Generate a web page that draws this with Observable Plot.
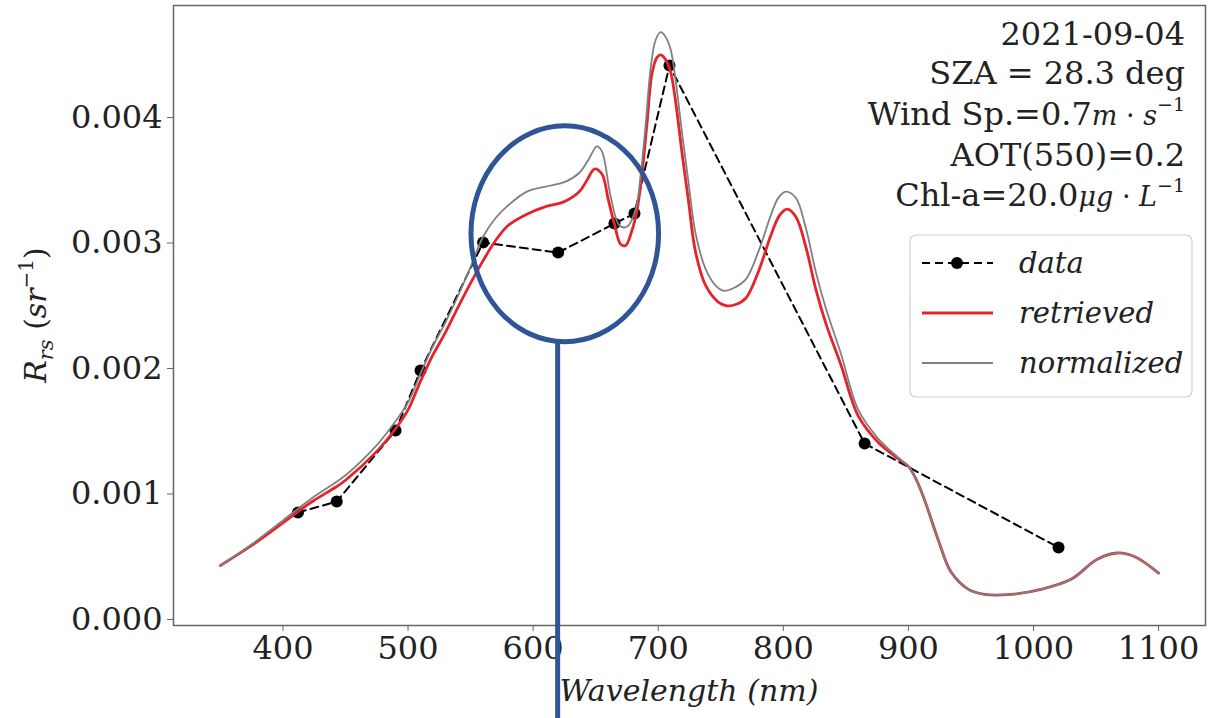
<!DOCTYPE html>
<html><head><meta charset="utf-8">
<script src="https://cdn.jsdelivr.net/npm/d3@7"></script>
<script src="https://cdn.jsdelivr.net/npm/@observablehq/plot@0.6"></script>
<style>body{margin:0;background:#fff;} svg{display:block}</style>
</head><body><div id="chart"></div>
<script>
// ---- data ----
const bandWavelengths = [412, 443, 490, 510, 560, 620, 665, 681, 709, 865, 1020];
const bandRrs = [0.000853, 0.00094, 0.001506, 0.001984, 0.003004, 0.002924, 0.003155, 0.003235, 0.004414, 0.001402, 0.000574];

const retrievedWl = [350,375,400,412,425,443,450,475,490,500,510,520,530,540,550,560,570,580,595,610,625,637,643,649,655,660,665,670,674,679,683,687,691,695,699,702,706,710,714,719,724,730,738,748,755,762,770,780,790,797,803,810,818,826,834,846,860,876,892,900,906,913,924,934,948,961,982,1006,1030,1051,1067,1081,1100];
const retrievedRrs = [0.00043,0.00059,0.00077,0.00086,0.00095,0.00106,0.00111,0.00134,0.00152,0.00167,0.00190,0.00211,0.00229,0.00249,0.00268,0.00286,0.00302,0.00314,0.00323,0.00329,0.00333,0.00341,0.00350,0.00359,0.00355,0.00335,0.00315,0.00299,0.00298,0.00310,0.00326,0.00355,0.00395,0.00435,0.00448,0.00450,0.00446,0.00436,0.00412,0.00372,0.00335,0.00292,0.00266,0.00253,0.00250,0.00251,0.00256,0.00277,0.00306,0.00322,0.00327,0.00321,0.00297,0.00263,0.00236,0.00203,0.00162,0.00141,0.00128,0.00122,0.00112,0.00095,0.00063,0.00038,0.00024,0.00020,0.00020,0.00024,0.00032,0.00048,0.00053,0.00050,0.00037];

const normalizedWl = [350,375,400,425,450,475,490,500,510,520,530,540,550,560,570,580,595,610,626,637,644,651,655,662,669,675,682,686,690,694,698,702,706,710,714,719,724,730,738,746,752,760,770,780,790,796,802,810,818,826,834,846,860,876,892,900,906,913,924,934,948,961,982,1006,1030,1051,1067,1081,1100];
const normalizedRrs = [0.00043,0.00060,0.00079,0.00098,0.00115,0.00139,0.00158,0.00173,0.00196,0.00218,0.00237,0.00258,0.00281,0.00305,0.00320,0.00330,0.00341,0.00345,0.00349,0.00356,0.00366,0.00377,0.00373,0.00337,0.00314,0.00313,0.00327,0.00355,0.00395,0.00440,0.00462,0.00468,0.00464,0.00454,0.00429,0.00388,0.00350,0.00307,0.00279,0.00266,0.00262,0.00264,0.00271,0.00293,0.00322,0.00336,0.00341,0.00336,0.00312,0.00277,0.00248,0.00212,0.00167,0.00144,0.00129,0.00122,0.00112,0.00095,0.00063,0.00038,0.00024,0.00020,0.00020,0.00024,0.00032,0.00048,0.00053,0.00050,0.00037];

const xTicks = [400, 500, 600, 700, 800, 900, 1000, 1100];
const yTicks = [0, 0.001, 0.002, 0.003, 0.004];
const xDomain = [312.5, 1137.5];
const yDomain = [-0.0000478, 0.004893];

const legendLabels = ["data", "retrieved", "normalized"];
const highlightCenter = [625.7, 0.00307];   // nm, Rrs
const highlightRadius = [75, 0.00086];      // nm, Rrs
const highlightLineWl = 620;

// ---- rows ----
const dataRows = bandWavelengths.map((w, i) => ({wl: w, rrs: bandRrs[i]}));
const retrievedRows = retrievedWl.map((w, i) => ({wl: w, rrs: retrievedRrs[i]}));
const normalizedRows = normalizedWl.map((w, i) => ({wl: w, rrs: normalizedRrs[i]}));

const FONT = "'DejaVu Serif', serif";
const RED = "#e5232b", GRAY = "#808080";

const plot = Plot.plot({
  width: 1209, height: 718,
  marginLeft: 173, marginRight: 4, marginTop: 5, marginBottom: 93,
  style: {fontFamily: FONT, fontSize: "32px", color: "#222", background: "white", overflow: "visible"},
  x: {domain: xDomain},
  y: {domain: yDomain},
  marks: [
    Plot.axisX(xTicks, {tickSize: 6, tickPadding: 5, label: null, stroke: "#666", fill: "#222", fontSize: 32, tickFormat: d => String(d)}),
    Plot.axisY(yTicks, {tickSize: 6, tickPadding: 5, label: null, stroke: "#666", fill: "#222", fontSize: 32, tickFormat: d3.format(".3f")}),
    Plot.line(dataRows, {x: "wl", y: "rrs", stroke: "black", strokeWidth: 2, strokeDasharray: "8,5"}),
    Plot.dot(dataRows, {x: "wl", y: "rrs", r: 6, fill: "black", stroke: "none"}),
    Plot.line(retrievedRows, {x: "wl", y: "rrs", stroke: RED, strokeWidth: 2.8, curve: "catmull-rom"}),
    Plot.line(normalizedRows, {x: "wl", y: "rrs", stroke: GRAY, strokeWidth: 1.8, curve: "catmull-rom"}),
    Plot.frame({stroke: "#666", strokeWidth: 1.5})
  ]
});

const svg = d3.select(plot);
const sx = plot.scale("x"), sy = plot.scale("y");

// axis labels
svg.append("text")
  .attr("x", 689).attr("y", 701).attr("text-anchor", "middle")
  .attr("font-family", FONT).attr("font-style", "italic").attr("font-size", 30).attr("fill", "#222")
  .text("Wavelength (nm)");

const yl = svg.append("text")
  .attr("transform", "translate(46,315) rotate(-90)")
  .attr("text-anchor", "middle").attr("font-family", FONT).attr("font-size", 30).attr("fill", "#222");
yl.append("tspan").attr("font-style", "italic").text("R");
yl.append("tspan").attr("font-style", "italic").attr("font-size", 21).attr("dy", 7).text("rs");
yl.append("tspan").attr("dy", -7).text(" (");
yl.append("tspan").attr("font-style", "italic").text("sr");
yl.append("tspan").attr("font-size", 20).attr("dy", -13).text("−1");
yl.append("tspan").attr("dy", 13).text(")");

// info text
const infoX = 1185;
const infoLines = [
  {y: 45, parts: [{t: "2021-09-04"}]},
  {y: 84, parts: [{t: "SZA = 28.3 deg"}]},
  {y: 125, parts: [{t: "Wind Sp.=0.7"}, {t: "m", i: 1, s: 27}, {t: " · ", s: 27}, {t: "s", i: 1, s: 27}, {t: "−1", s: 19, dy: -14}]},
  {y: 166, parts: [{t: "AOT(550)=0.2"}]},
  {y: 206, parts: [{t: "Chl-a=20.0"}, {t: "μg", i: 1, s: 27}, {t: " · ", s: 27}, {t: "L", i: 1, s: 27}, {t: "−1", s: 19, dy: -14}]}
];
infoLines.forEach(line => {
  const t = svg.append("text").attr("x", infoX).attr("y", line.y).attr("text-anchor", "end")
    .attr("font-family", FONT).attr("font-size", 32).attr("fill", "#222")
    .attr("xml:space", "preserve").style("white-space", "pre");
  line.parts.forEach(p => {
    const ts = t.append("tspan").text(p.t);
    if (p.i) ts.attr("font-style", "italic");
    if (p.s) ts.attr("font-size", p.s);
    if (p.dy) ts.attr("dy", p.dy);
  });
});

// legend
const lg = svg.append("g");
lg.append("rect").attr("x", 910).attr("y", 235).attr("width", 282).attr("height", 162).attr("rx", 6)
  .attr("fill", "white").attr("fill-opacity", 0.85).attr("stroke", "#d0d0d0").attr("stroke-width", 1.2);
const legendY = [263, 313, 363];
lg.append("line").attr("x1", 922).attr("x2", 993).attr("y1", legendY[0]).attr("y2", legendY[0])
  .attr("stroke", "black").attr("stroke-width", 2).attr("stroke-dasharray", "8,5");
lg.append("circle").attr("cx", 957).attr("cy", legendY[0]).attr("r", 6).attr("fill", "black");
lg.append("line").attr("x1", 922).attr("x2", 993).attr("y1", legendY[1]).attr("y2", legendY[1])
  .attr("stroke", RED).attr("stroke-width", 2.8);
lg.append("line").attr("x1", 922).attr("x2", 993).attr("y1", legendY[2]).attr("y2", legendY[2])
  .attr("stroke", GRAY).attr("stroke-width", 1.8);
legendLabels.forEach((lab, i) => {
  lg.append("text").attr("x", 1019).attr("y", legendY[i] + 10).attr("text-anchor", "start")
    .attr("font-family", FONT).attr("font-style", "italic").attr("font-size", 29).attr("fill", "#222")
    .text(lab);
});

// highlight annotation
const cx = sx.apply(highlightCenter[0]);
const cy = sy.apply(highlightCenter[1]);
const rx = sx.apply(highlightCenter[0] + highlightRadius[0]) - cx;
const ry = cy - sy.apply(highlightCenter[1] + highlightRadius[1]);
const BLUE = "#2f5597";
svg.append("ellipse").attr("cx", cx).attr("cy", cy).attr("rx", rx).attr("ry", ry)
  .attr("fill", "none").attr("stroke", BLUE).attr("stroke-width", 5);
const lx = sx.apply(highlightLineWl);
svg.append("line").attr("x1", lx).attr("x2", lx).attr("y1", cy + ry).attr("y2", 718)
  .attr("stroke", BLUE).attr("stroke-width", 5);

document.getElementById("chart").appendChild(plot);
</script>
</body></html>
